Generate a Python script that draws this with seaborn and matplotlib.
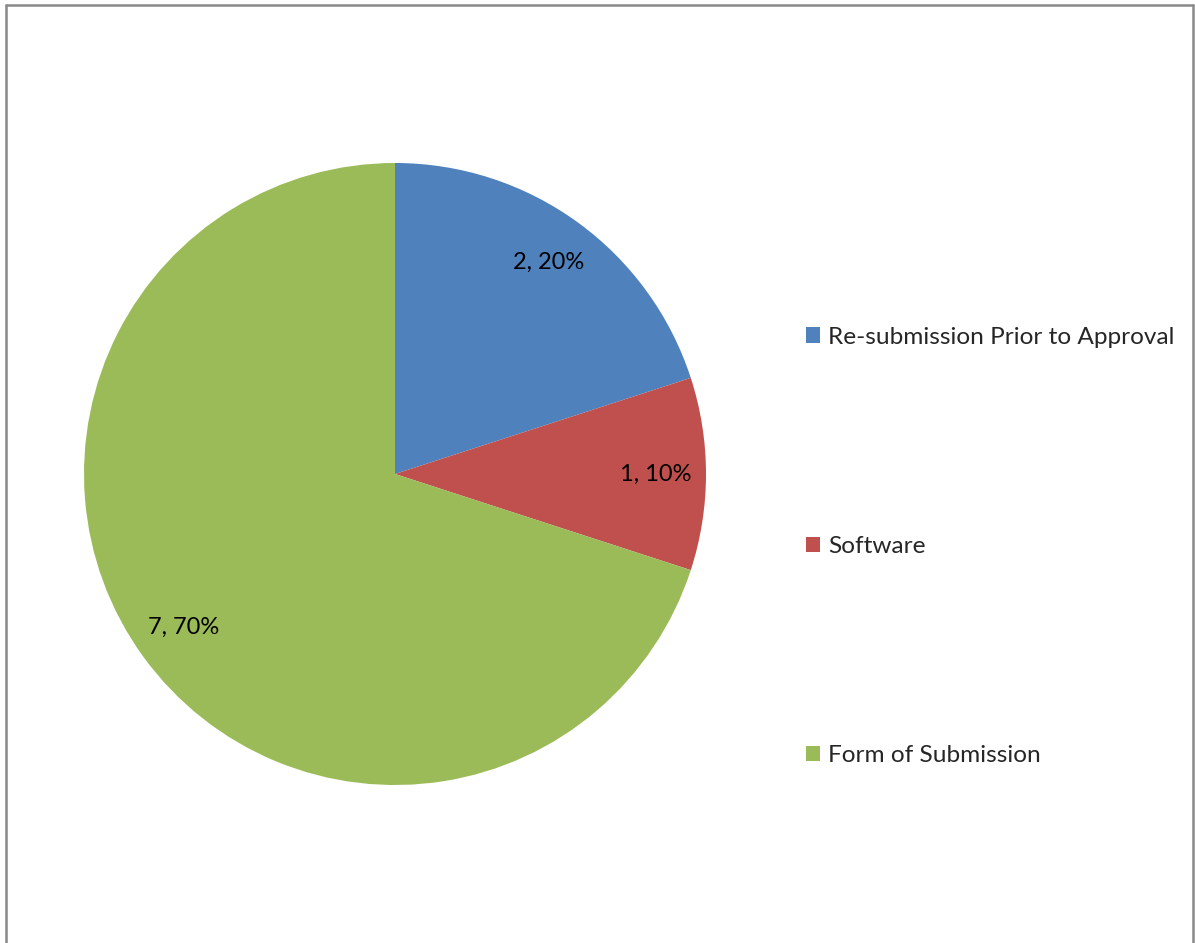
import seaborn as sns
import matplotlib.pyplot as plt
from matplotlib.lines import Line2D

sns.set_style("white")
plt.rcParams['font.family'] = ['Lato', 'DejaVu Sans']

categories = ["Re-submission Prior to Approval", "Software", "Form of Submission"]
counts = [2, 1, 7]
colors = ["#4F81BD", "#C0504D", "#9BBB59"]

W, H = 1195, 943
fig = plt.figure(figsize=(W / 100, H / 100), dpi=100)

# pie centre (395, 474) px, radius 311 px
cx, cy, r = 395, H - 474, 311
ax = fig.add_axes([(cx - r) / W, (cy - r) / H, 2 * r / W, 2 * r / H])

total = sum(counts)
wedges, texts, autotexts = ax.pie(
    counts, colors=colors, startangle=90, counterclock=False,
    autopct=lambda p: f"{round(p * total / 100)}, {p:.0f}%",
    pctdistance=0.84, radius=1.0,
    wedgeprops=dict(edgecolor="white", linewidth=0),
    textprops=dict(fontsize=17, color="black"))
ax.set_xlim(-1, 1)
ax.set_ylim(-1, 1)
ax.set_aspect("equal")
ax.axis("off")

fig.legend(wedges, categories, loc="upper left",
           bbox_to_anchor=(796 / W, 1 - 317 / H), frameon=False,
           fontsize=17.6, handlelength=0.6, handleheight=0.6,
           handletextpad=0.3, labelspacing=7.7, borderaxespad=0)

# chart area border (left, top, right)
bc = "#898989"
fig.add_artist(Line2D([6 / W, 6 / W], [0, 1 - 5 / H], color=bc, lw=1.8,
                      transform=fig.transFigure))
fig.add_artist(Line2D([6 / W, 1193 / W], [1 - 5 / H, 1 - 5 / H], color=bc, lw=1.8,
                      transform=fig.transFigure))
fig.add_artist(Line2D([1193 / W, 1193 / W], [0, 1 - 5 / H], color=bc, lw=1.8,
                      transform=fig.transFigure))

fig.savefig("out.png", dpi=100)
